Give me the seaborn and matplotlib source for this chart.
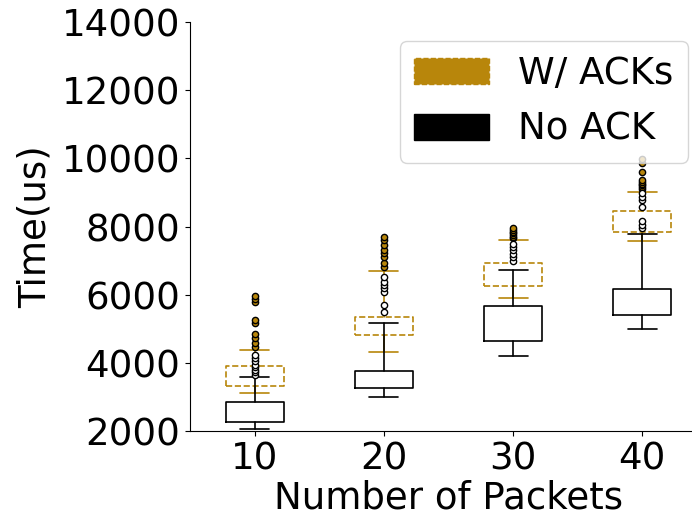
import matplotlib
matplotlib.use("Agg")
import matplotlib.pyplot as plt
import matplotlib.patches as mpatches
import seaborn as sns

# Valores (us)
packets = [10, 20, 30, 40]

noack_lo = [2067, 3006, 4200, 4993]
noack_q1 = [2255, 3253, 4641, 5404]
noack_med = [2500, 3450, 5100, 5700]
noack_q3 = [2860, 3752, 5676, 6166]
noack_hi = [3584, 5169, 6724, 7790]
noack_out = [
    [3650, 3720, 3800, 3880, 3950, 4050, 4130, 4230],
    [5483, 5697, 6087, 6187, 6284, 6380, 6527],
    [6980, 7100, 7200, 7300, 7400, 7500],
    [7950, 8050, 8170, 8580, 8780, 8880, 8970],
]

ack_lo = [3115, 4327, 5911, 7583]
ack_q1 = [3320, 4808, 6254, 7830]
ack_med = [3600, 5050, 6600, 8100]
ack_q3 = [3907, 5354, 6929, 8445]
ack_hi = [4362, 6694, 7604, 9004]
ack_out = [
    [4473, 4591, 4720, 4846, 5178, 5257, 5776, 5873, 5970],
    [6820, 6920, 7114, 7214, 7300, 7457, 7600, 7683],
    [7650, 7700, 7750, 7800, 7850, 7900, 7950],
    [9100, 9160, 9210, 9260, 9310, 9360, 9590, 9850, 9980],
]

gold = "darkgoldenrod"
fs = 26.7


def montar_stats(lo, q1, med, q3, hi, out):
    stats = []
    for i in range(len(lo)):
        stats.append({
            "whislo": lo[i], "q1": q1[i], "med": med[i],
            "q3": q3[i], "whishi": hi[i], "fliers": out[i],
        })
    return stats


sns.set_style("ticks", {"text.color": "black", "axes.labelcolor": "black",
                        "xtick.color": "black", "ytick.color": "black",
                        "axes.edgecolor": "black"})
plt.rcParams["font.family"] = ["DejaVu Sans"]

fig = plt.figure(figsize=(6.92, 5.15), dpi=100)
ax = fig.add_axes([190 / 692, 84 / 515, 517 / 692, 409 / 515])

pos = list(range(1, len(packets) + 1))

# W/ ACKs
ax.bxp(montar_stats(ack_lo, ack_q1, ack_med, ack_q3, ack_hi, ack_out),
       positions=pos, widths=0.45,
       boxprops=dict(color=gold, linestyle="--", linewidth=1.2),
       whiskerprops=dict(color=gold, linewidth=1.2),
       capprops=dict(color=gold, linewidth=1.2),
       medianprops=dict(linewidth=0),
       flierprops=dict(marker="o", markerfacecolor=gold, markeredgecolor="black",
                       markersize=4.5, markeredgewidth=1))

# No ACK
ax.bxp(montar_stats(noack_lo, noack_q1, noack_med, noack_q3, noack_hi, noack_out),
       positions=pos, widths=0.45,
       boxprops=dict(color="black", linewidth=1.2),
       whiskerprops=dict(color="black", linewidth=1.2),
       capprops=dict(color="black", linewidth=1.2),
       medianprops=dict(linewidth=0),
       flierprops=dict(marker="o", markerfacecolor="white", markeredgecolor="black",
                       markersize=4.5, markeredgewidth=1))

ax.set_xlim(0.5, 4.5)
ax.set_ylim(2000, 14000)
ax.set_xticks(pos)
ax.set_xticklabels([str(p) for p in packets])
ax.set_yticks(range(2000, 14001, 2000))
ax.tick_params(labelsize=fs)
ax.set_xlabel("Number of Packets", fontsize=fs, labelpad=1)
ax.set_ylabel("Time(us)", fontsize=fs, labelpad=6)
sns.despine(ax=ax)

handles = [
    mpatches.Patch(facecolor=gold, edgecolor=gold, linestyle="--", label="W/ ACKs"),
    mpatches.Patch(facecolor="black", edgecolor="black", label="No ACK"),
]
ax.legend(handles=handles, loc="upper right", fontsize=fs)

fig.savefig("out.png", dpi=100)
